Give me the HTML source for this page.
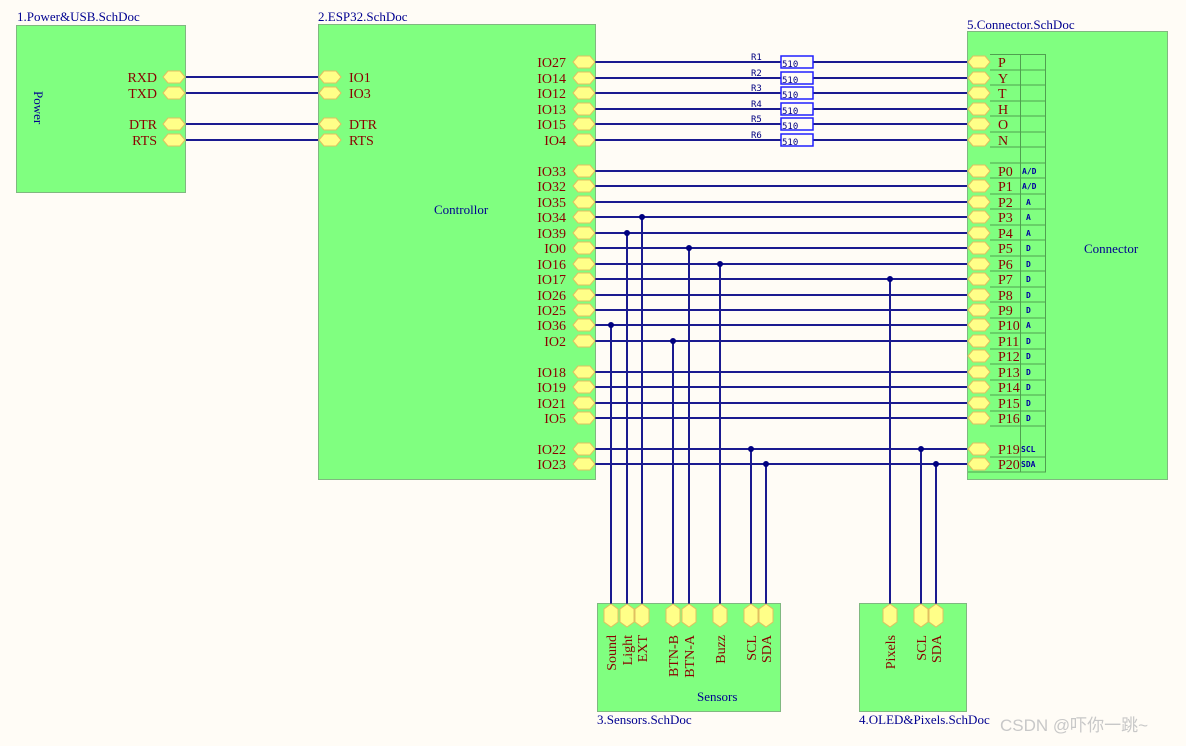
<!DOCTYPE html>
<html><head><meta charset="utf-8"><style>
html,body{margin:0;padding:0;background:#fffcf6;}
svg{display:block}
.t{font-family:"Liberation Serif",serif;font-size:14px;fill:#8b0000}
.b{font-family:"Liberation Serif",serif;font-size:13px;fill:#000090}
.s{font-family:"DejaVu Sans Mono","Liberation Mono",monospace;font-size:8px;font-weight:bold;fill:#0000a0}
.r{font-family:"DejaVu Sans Mono","Liberation Mono",monospace;font-size:9px;fill:#000080}
.w{stroke:#1a1a90;stroke-width:2;fill:none}
</style></head><body>
<svg width="1186" height="746" xmlns="http://www.w3.org/2000/svg">
<defs>
<polygon id="h" points="0,0 5,-6 17,-6 22,0 17,6 5,6" fill="#ffff88" stroke="#e0c060" stroke-width="1"/>
<polygon id="v" points="0,0 -7,5 -7,18 0,23 7,18 7,5" fill="#ffff88" stroke="#e0c060" stroke-width="1"/>
</defs>
<rect width="1186" height="746" fill="#fffcf6"/>
<rect x="16.5" y="25.5" width="169" height="167" fill="#80ff80" stroke="#80b880"/>
<text x="17" y="21" class="b">1.Power&amp;USB.SchDoc</text>
<text class="b" transform="translate(34,91) rotate(90)">Power</text>
<rect x="318.5" y="24.5" width="277" height="455" fill="#80ff80" stroke="#80b880"/>
<text x="318" y="21" class="b">2.ESP32.SchDoc</text>
<text x="434" y="214" class="b">Controllor</text>
<rect x="967.5" y="31.5" width="200" height="448" fill="#80ff80" stroke="#80b880"/>
<text x="967" y="29" class="b">5.Connector.SchDoc</text>
<text x="1084" y="253" class="b">Connector</text>
<rect x="597.5" y="603.5" width="183" height="108" fill="#80ff80" stroke="#80b880"/>
<text x="597" y="724" class="b">3.Sensors.SchDoc</text>
<text x="697" y="701" class="b">Sensors</text>
<rect x="859.5" y="603.5" width="107" height="108" fill="#80ff80" stroke="#80b880"/>
<text x="859" y="724" class="b">4.OLED&amp;Pixels.SchDoc</text>
<g stroke="#50a050" stroke-width="1">
<line x1="1020.5" y1="54" x2="1020.5" y2="472"/><line x1="1045.5" y1="54" x2="1045.5" y2="472"/>
<line x1="990" y1="54.5" x2="1046" y2="54.5"/>
<line x1="990" y1="70" x2="1046" y2="70"/><line x1="990" y1="85" x2="1046" y2="85"/><line x1="990" y1="101" x2="1046" y2="101"/><line x1="990" y1="116" x2="1046" y2="116"/><line x1="990" y1="132" x2="1046" y2="132"/><line x1="990" y1="147" x2="1046" y2="147"/><line x1="990" y1="163" x2="1046" y2="163"/><line x1="990" y1="178" x2="1046" y2="178"/><line x1="990" y1="194" x2="1046" y2="194"/><line x1="990" y1="209" x2="1046" y2="209"/><line x1="990" y1="225" x2="1046" y2="225"/><line x1="990" y1="240" x2="1046" y2="240"/><line x1="990" y1="256" x2="1046" y2="256"/><line x1="990" y1="271" x2="1046" y2="271"/><line x1="990" y1="287" x2="1046" y2="287"/><line x1="990" y1="302" x2="1046" y2="302"/><line x1="990" y1="318" x2="1046" y2="318"/><line x1="990" y1="333" x2="1046" y2="333"/><line x1="990" y1="349" x2="1046" y2="349"/><line x1="990" y1="364" x2="1046" y2="364"/><line x1="990" y1="380" x2="1046" y2="380"/><line x1="990" y1="395" x2="1046" y2="395"/><line x1="990" y1="411" x2="1046" y2="411"/><line x1="990" y1="426" x2="1046" y2="426"/><line x1="990" y1="457" x2="1046" y2="457"/><line x1="968" y1="472" x2="1046" y2="472"/>
</g>
<g class="w">
<line x1="186" y1="77" x2="318" y2="77"/><line x1="186" y1="93" x2="318" y2="93"/>
<line x1="186" y1="124" x2="318" y2="124"/><line x1="186" y1="140" x2="318" y2="140"/>
<line x1="595" y1="62" x2="967" y2="62"/><line x1="595" y1="78" x2="967" y2="78"/><line x1="595" y1="93" x2="967" y2="93"/><line x1="595" y1="109" x2="967" y2="109"/><line x1="595" y1="124" x2="967" y2="124"/><line x1="595" y1="140" x2="967" y2="140"/>
<line x1="595" y1="171" x2="967" y2="171"/><line x1="595" y1="186" x2="967" y2="186"/><line x1="595" y1="202" x2="967" y2="202"/><line x1="595" y1="217" x2="967" y2="217"/><line x1="595" y1="233" x2="967" y2="233"/><line x1="595" y1="248" x2="967" y2="248"/><line x1="595" y1="264" x2="967" y2="264"/><line x1="595" y1="279" x2="967" y2="279"/><line x1="595" y1="295" x2="967" y2="295"/><line x1="595" y1="310" x2="967" y2="310"/><line x1="595" y1="325" x2="967" y2="325"/><line x1="595" y1="341" x2="967" y2="341"/>
<line x1="595" y1="372" x2="967" y2="372"/><line x1="595" y1="387" x2="967" y2="387"/><line x1="595" y1="403" x2="967" y2="403"/><line x1="595" y1="418" x2="967" y2="418"/><line x1="595" y1="449" x2="967" y2="449"/><line x1="595" y1="464" x2="967" y2="464"/>
<line x1="611" y1="325" x2="611" y2="604"/><line x1="627" y1="233" x2="627" y2="604"/><line x1="642" y1="217" x2="642" y2="604"/><line x1="673" y1="341" x2="673" y2="604"/><line x1="689" y1="248" x2="689" y2="604"/><line x1="720" y1="264" x2="720" y2="604"/><line x1="751" y1="449" x2="751" y2="604"/><line x1="766" y1="464" x2="766" y2="604"/><line x1="890" y1="279" x2="890" y2="604"/><line x1="921" y1="449" x2="921" y2="604"/><line x1="936" y1="464" x2="936" y2="604"/>
</g>
<g fill="#000080">
<circle cx="642" cy="217" r="3"/><circle cx="627" cy="233" r="3"/><circle cx="689" cy="248" r="3"/><circle cx="720" cy="264" r="3"/><circle cx="890" cy="279" r="3"/><circle cx="611" cy="325" r="3"/><circle cx="673" cy="341" r="3"/><circle cx="751" cy="449" r="3"/><circle cx="921" cy="449" r="3"/><circle cx="766" cy="464" r="3"/><circle cx="936" cy="464" r="3"/>
</g>
<g fill="#fffcf6" stroke="#2020ff" stroke-width="1.5">
<rect x="781" y="56" width="32" height="12"/><rect x="781" y="72" width="32" height="12"/><rect x="781" y="87" width="32" height="12"/><rect x="781" y="103" width="32" height="12"/><rect x="781" y="118" width="32" height="12"/><rect x="781" y="134" width="32" height="12"/>
</g>
<g class="r">
<text x="782" y="67">510</text><text x="782" y="83">510</text><text x="782" y="98">510</text><text x="782" y="114">510</text><text x="782" y="129">510</text><text x="782" y="145">510</text>
<text x="751" y="60">R1</text><text x="751" y="76">R2</text><text x="751" y="91">R3</text><text x="751" y="107">R4</text><text x="751" y="122">R5</text><text x="751" y="138">R6</text>
</g>
<use href="#h" x="163" y="77"/><use href="#h" x="163" y="93"/><use href="#h" x="163" y="124"/><use href="#h" x="163" y="140"/>
<g class="t" text-anchor="end"><text x="157" y="82">RXD</text><text x="157" y="98">TXD</text><text x="157" y="129">DTR</text><text x="157" y="145">RTS</text></g>
<use href="#h" x="319" y="77"/><use href="#h" x="319" y="93"/><use href="#h" x="319" y="124"/><use href="#h" x="319" y="140"/>
<g class="t"><text x="349" y="82">IO1</text><text x="349" y="98">IO3</text><text x="349" y="129">DTR</text><text x="349" y="145">RTS</text></g>
<g>
<use href="#h" x="573" y="62"/><use href="#h" x="573" y="78"/><use href="#h" x="573" y="93"/><use href="#h" x="573" y="109"/><use href="#h" x="573" y="124"/><use href="#h" x="573" y="140"/><use href="#h" x="573" y="171"/><use href="#h" x="573" y="186"/><use href="#h" x="573" y="202"/><use href="#h" x="573" y="217"/><use href="#h" x="573" y="233"/><use href="#h" x="573" y="248"/><use href="#h" x="573" y="264"/><use href="#h" x="573" y="279"/><use href="#h" x="573" y="295"/><use href="#h" x="573" y="310"/><use href="#h" x="573" y="325"/><use href="#h" x="573" y="341"/><use href="#h" x="573" y="372"/><use href="#h" x="573" y="387"/><use href="#h" x="573" y="403"/><use href="#h" x="573" y="418"/><use href="#h" x="573" y="449"/><use href="#h" x="573" y="464"/>
</g>
<g class="t" text-anchor="end">
<text x="566" y="67">IO27</text><text x="566" y="83">IO14</text><text x="566" y="98">IO12</text><text x="566" y="114">IO13</text><text x="566" y="129">IO15</text><text x="566" y="145">IO4</text><text x="566" y="176">IO33</text><text x="566" y="191">IO32</text><text x="566" y="207">IO35</text><text x="566" y="222">IO34</text><text x="566" y="238">IO39</text><text x="566" y="253">IO0</text><text x="566" y="269">IO16</text><text x="566" y="284">IO17</text><text x="566" y="300">IO26</text><text x="566" y="315">IO25</text><text x="566" y="330">IO36</text><text x="566" y="346">IO2</text><text x="566" y="377">IO18</text><text x="566" y="392">IO19</text><text x="566" y="408">IO21</text><text x="566" y="423">IO5</text><text x="566" y="454">IO22</text><text x="566" y="469">IO23</text>
</g>
<g>
<use href="#h" x="968" y="62"/><use href="#h" x="968" y="78"/><use href="#h" x="968" y="93"/><use href="#h" x="968" y="109"/><use href="#h" x="968" y="124"/><use href="#h" x="968" y="140"/><use href="#h" x="968" y="171"/><use href="#h" x="968" y="186"/><use href="#h" x="968" y="202"/><use href="#h" x="968" y="217"/><use href="#h" x="968" y="233"/><use href="#h" x="968" y="248"/><use href="#h" x="968" y="264"/><use href="#h" x="968" y="279"/><use href="#h" x="968" y="295"/><use href="#h" x="968" y="310"/><use href="#h" x="968" y="325"/><use href="#h" x="968" y="341"/><use href="#h" x="968" y="356"/><use href="#h" x="968" y="372"/><use href="#h" x="968" y="387"/><use href="#h" x="968" y="403"/><use href="#h" x="968" y="418"/><use href="#h" x="968" y="449"/><use href="#h" x="968" y="464"/>
</g>
<g class="t">
<text x="998" y="67">P</text><text x="998" y="83">Y</text><text x="998" y="98">T</text><text x="998" y="114">H</text><text x="998" y="129">O</text><text x="998" y="145">N</text><text x="998" y="176">P0</text><text x="998" y="191">P1</text><text x="998" y="207">P2</text><text x="998" y="222">P3</text><text x="998" y="238">P4</text><text x="998" y="253">P5</text><text x="998" y="269">P6</text><text x="998" y="284">P7</text><text x="998" y="300">P8</text><text x="998" y="315">P9</text><text x="998" y="330">P10</text><text x="998" y="346">P11</text><text x="998" y="361">P12</text><text x="998" y="377">P13</text><text x="998" y="392">P14</text><text x="998" y="408">P15</text><text x="998" y="423">P16</text><text x="998" y="454">P19</text><text x="998" y="469">P20</text>
</g>
<g class="s">
<text x="1022" y="174">A/D</text><text x="1022" y="189">A/D</text><text x="1026" y="205">A</text><text x="1026" y="220">A</text><text x="1026" y="236">A</text><text x="1026" y="251">D</text><text x="1026" y="267">D</text><text x="1026" y="282">D</text><text x="1026" y="298">D</text><text x="1026" y="313">D</text><text x="1026" y="328">A</text><text x="1026" y="344">D</text><text x="1026" y="359">D</text><text x="1026" y="375">D</text><text x="1026" y="390">D</text><text x="1026" y="406">D</text><text x="1026" y="421">D</text><text x="1021" y="452">SCL</text><text x="1021" y="467">SDA</text>
</g>
<use href="#v" x="611" y="604"/><use href="#v" x="627" y="604"/><use href="#v" x="642" y="604"/><use href="#v" x="673" y="604"/><use href="#v" x="689" y="604"/><use href="#v" x="720" y="604"/><use href="#v" x="751" y="604"/><use href="#v" x="766" y="604"/><use href="#v" x="890" y="604"/><use href="#v" x="921" y="604"/><use href="#v" x="936" y="604"/>
<g class="t" text-anchor="end">
<text transform="translate(616,635) rotate(-90)">Sound</text>
<text transform="translate(632,635) rotate(-90)">Light</text>
<text transform="translate(647,635) rotate(-90)">EXT</text>
<text transform="translate(678,635) rotate(-90)">BTN-B</text>
<text transform="translate(694,635) rotate(-90)">BTN-A</text>
<text transform="translate(725,635) rotate(-90)">Buzz</text>
<text transform="translate(756,635) rotate(-90)">SCL</text>
<text transform="translate(771,635) rotate(-90)">SDA</text>
<text transform="translate(895,635) rotate(-90)">Pixels</text>
<text transform="translate(926,635) rotate(-90)">SCL</text>
<text transform="translate(941,635) rotate(-90)">SDA</text>
</g>
<text x="1000" y="731" font-family="Liberation Sans,Noto Sans CJK SC,sans-serif" font-size="17" fill="#c8c8c8">CSDN @吓你一跳~</text>
</svg>
</body></html>
